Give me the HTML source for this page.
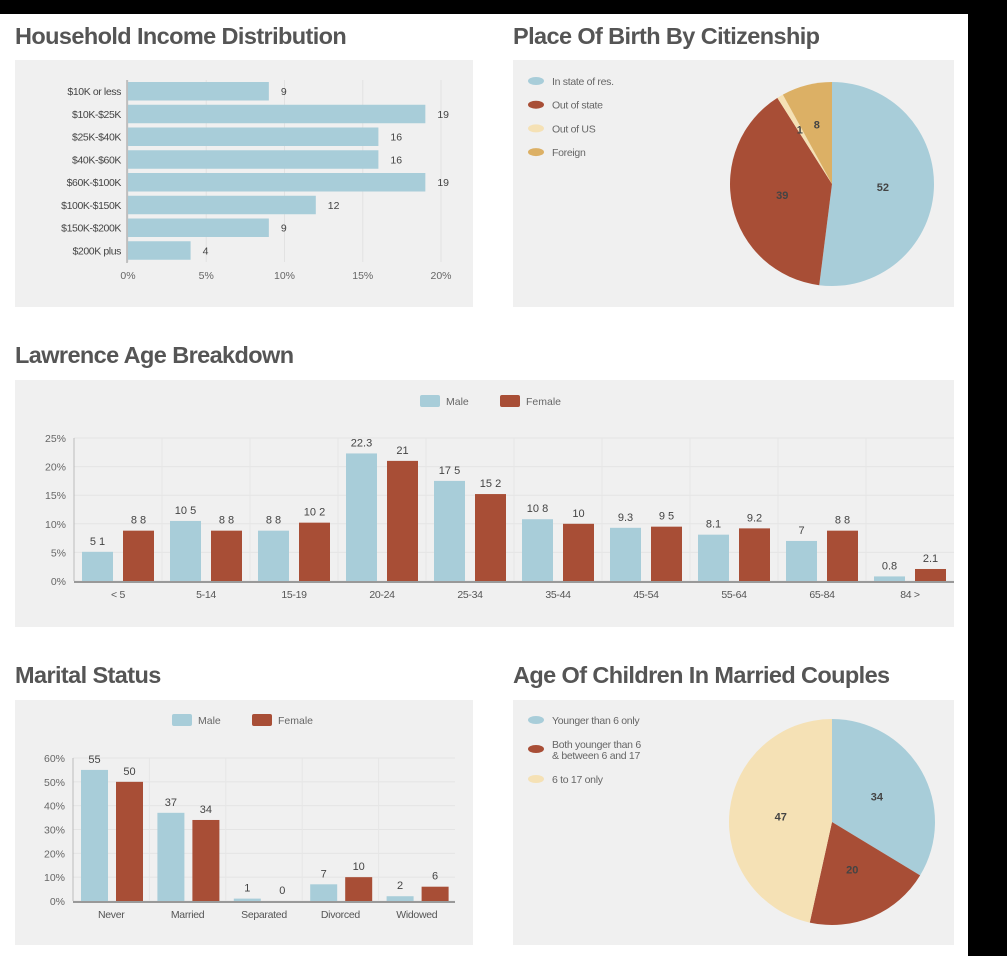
<!DOCTYPE html>
<html><head><meta charset="utf-8"><style>
body{margin:0;width:1007px;height:956px;background:#000;position:relative;overflow:hidden;font-family:"Liberation Sans",sans-serif}
#page{position:absolute;left:0;top:14px;width:968px;height:942px;background:#fff}
.t{position:absolute;font-weight:bold;font-size:23.5px;color:#555;letter-spacing:-0.6px}
svg{position:absolute;left:0;top:0}
</style></head><body>
<div id="page"></div>
<div class="t" style="left:15px;top:23px">Household Income Distribution</div>
<div class="t" style="left:513px;top:23px">Place Of Birth By Citizenship</div>
<div class="t" style="left:15px;top:342px">Lawrence Age Breakdown</div>
<div class="t" style="left:15px;top:662px">Marital Status</div>
<div class="t" style="left:513px;top:662px">Age Of Children In Married Couples</div>
<svg id="s" width="1007" height="956" font-family="Liberation Sans, sans-serif"></svg>
<script>
const incomeCats=["$10K or less","$10K-$25K","$25K-$40K","$40K-$60K","$60K-$100K","$100K-$150K","$150K-$200K","$200K plus"];
const incomeVals=[9,19,16,16,19,12,9,4];
const incomeTicks=[0,5,10,15,20];
const birthCats=["In state of res.","Out of state","Out of US","Foreign"];
const birthVals=[52,39,1,8];
const ageCats=["< 5","5-14","15-19","20-24","25-34","35-44","45-54","55-64","65-84","84 >"];
const ageMale=[5.1,10.5,8.8,22.3,17.5,10.8,9.3,8.1,7,0.8];
const ageFemale=[8.8,8.8,10.2,21,15.2,10,9.5,9.2,8.8,2.1];
const ageMaleLbl=["5 1","10 5","8 8","22.3","17 5","10 8","9.3","8.1","7","0.8"];
const ageFemaleLbl=["8 8","8 8","10 2","21","15 2","10","9 5","9.2","8 8","2.1"];
const ageTicks=[0,5,10,15,20,25];
const marCats=["Never","Married","Separated","Divorced","Widowed"];
const marMale=[55,37,1,7,2];
const marFemale=[50,34,0,10,6];
const marTicks=[0,10,20,30,40,50,60];
const kidCats=["Younger than 6 only","Both younger than 6|& between 6 and 17","6 to 17 only"];
const kidVals=[34,20,47];

const BLUE="#a8cdd9",RED="#a84e36",CREAM="#f5e1b5",GOLD="#dcb065";
const S=document.getElementById('s');const NS="http://www.w3.org/2000/svg";
function el(t,a,txt){const e=document.createElementNS(NS,t);for(const k in a)e.setAttribute(k,a[k]);if(txt!==undefined)e.textContent=txt;S.appendChild(e);return e;}
function panel(x,y,w,h,n){const e=el('rect',{x,y,width:w,height:h,fill:'#f0f0f0'});

}
panel(15,60,458,247,'income-panel');panel(513,60,441,247,'birth-panel');
panel(15,380,939,247,'age-panel');panel(15,700,458,245,'marital-panel');panel(513,700,441,245,'children-panel');

const ix=v=>128+v/20*313;const bandH=22.75;
incomeTicks.forEach(t=>{const l=el('line',{x1:ix(t),x2:ix(t),y1:80,y2:262,stroke:'#e2e2e2'});


const tx=el('text',{x:ix(t),y:279,'font-size':10.5,fill:'#666','text-anchor':'middle'},t+'%');

});
el('line',{x1:127,x2:127,y1:80,y2:263,stroke:'#999'});
incomeCats.forEach((c,i)=>{const y=80+i*bandH;
const b=el('rect',{x:128,y:y+2,width:ix(incomeVals[i])-128,height:18.5,fill:BLUE});


const l=el('text',{x:121,y:y+15,'font-size':10.5,fill:'#444','text-anchor':'end','letter-spacing':'-0.4'},c);


const v=el('text',{x:ix(incomeVals[i])+12,y:y+15,'font-size':10.5,fill:'#444'},incomeVals[i]);

});

function pie(cx,cy,r,vals,cols,lblPos,prefix){let tot=vals.reduce((a,b)=>a+b,0),a0=-Math.PI/2;
vals.forEach((v,i)=>{const a1=a0+v/tot*2*Math.PI;const lg=(a1-a0)>Math.PI?1:0;
const p=el('path',{d:`M${cx},${cy}L${cx+r*Math.cos(a0)},${cy+r*Math.sin(a0)}A${r},${r} 0 ${lg} 1 ${cx+r*Math.cos(a1)},${cy+r*Math.sin(a1)}Z`,fill:cols[i]});


const am=(a0+a1)/2,rr=lblPos[i]*r;
const t=el('text',{x:cx+rr*Math.cos(am),y:cy+rr*Math.sin(am)+4,'font-size':11,'font-weight':'bold',fill:'#444','text-anchor':'middle'},v);


a0=a1;});}
pie(832,184,102,birthVals,[BLUE,RED,CREAM,GOLD],[0.5,0.5,0.62,0.6],'birth');
pie(832,822,103,kidVals,[BLUE,RED,CREAM],[0.5,0.5,0.5],'children');
function legend(x,y,cats,cols,prefix,gap){let yy=y;cats.forEach((c,i)=>{
const lines=c.split('|');const e=el('ellipse',{cx:x+8,cy:yy+(lines.length-1)*5,rx:8,ry:4,fill:cols[i]});


lines.forEach((ln,j)=>{const t=el('text',{x:x+24,y:yy+4+j*11,'font-size':10.5,fill:'#666','letter-spacing':'-0.3'},ln);

});
yy+=gap+(lines.length-1)*11;});}
legend(528,81,birthCats,[BLUE,RED,CREAM,GOLD],'birth',23.7);
legend(528,720,kidCats,[BLUE,RED,CREAM],'children',24);

function grouped(o){const {x0,x1,y0,y1,max,ticks,cats,m,f,ml,fl,bw,gap,off,prefix,fs}=o;
const gw=(x1-x0)/cats.length;const yv=v=>y0-(v/max)*(y0-y1);
ticks.forEach(t=>{const l=el('line',{x1:x0,x2:x1,y1:yv(t),y2:yv(t),stroke:'#e4e4e4'});


const tx=el('text',{x:x0-8,y:yv(t)+4,'font-size':10.5,fill:'#666','text-anchor':'end'},t+'%');

});
for(let i=1;i<cats.length;i++){const l=el('line',{x1:x0+i*gw,x2:x0+i*gw,y1:y1,y2:y0,stroke:'#e6e6e6'});

}
el('line',{x1:x0,x2:x0,y1:y1,y2:y0,stroke:'#bbb'});
el('line',{x1:x0,x2:x1,y1:y0+1,y2:y0+1,stroke:'#999',"stroke-width":2});
cats.forEach((c,i)=>{const gx=x0+i*gw;
[[m,ml,BLUE,'male'],[f,fl,RED,'female']].forEach((s,k)=>{const bx=gx+off+k*(bw+gap);const v=s[0][i];
const r=el('rect',{x:bx,y:yv(v),width:bw,height:y0-yv(v),fill:s[2]});


const t=el('text',{x:bx+bw/2,y:yv(v)-7,'font-size':fs,fill:'#444','text-anchor':'middle'},s[1][i]);

});
const t=el('text',{x:gx+gw/2,y:y0+17,'font-size':10.5,fill:'#555','text-anchor':'middle','letter-spacing':'-0.3'},c);

});}
grouped({x0:74,x1:954,y0:581,y1:438,max:25,ticks:ageTicks,cats:ageCats,m:ageMale,f:ageFemale,ml:ageMaleLbl,fl:ageFemaleLbl,bw:31,gap:10,off:8,prefix:'age',fs:11});
grouped({x0:73,x1:455,y0:901,y1:758,max:60,ticks:marTicks,cats:marCats,m:marMale,f:marFemale,ml:marMale,fl:marFemale,bw:27,gap:8,off:8,prefix:'marital',fs:11});
function lg2(x,y,prefix){[[BLUE,'Male',0],[RED,'Female',80]].forEach(s=>{
const r=el('rect',{x:x+s[2],y:y-6,width:20,height:12,rx:2,fill:s[0]});


const t=el('text',{x:x+s[2]+26,y:y+4,'font-size':10.5,fill:'#666'},s[1]);

});}
lg2(420,401,'age');lg2(172,720,'marital');
</script></body></html>
